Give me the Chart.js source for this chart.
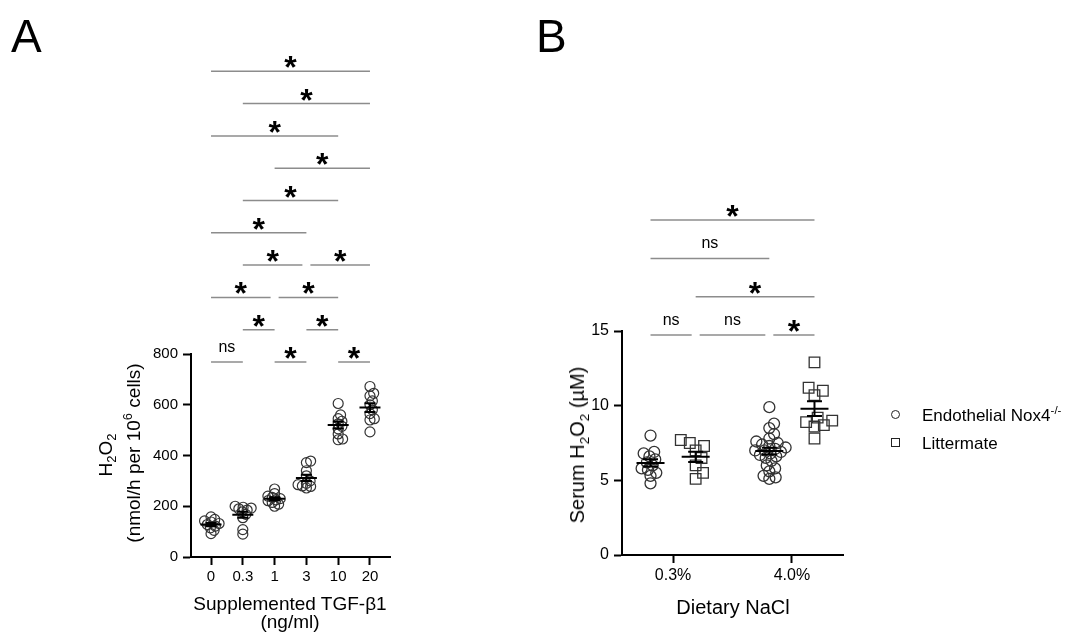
<!DOCTYPE html>
<html>
<head>
<meta charset="utf-8">
<script src="https://cdn.jsdelivr.net/npm/chart.js@4"></script>
<style>
body{margin:0;background:#fff;width:1069px;height:637px;overflow:hidden;position:relative;font-family:"Liberation Sans",Arial,sans-serif;color:#000}
canvas{position:absolute;top:0}
.t{position:absolute;white-space:nowrap;line-height:1}
.c{transform:translate(-50%,-50%)}
.r{transform:translate(-50%,-50%) rotate(-90deg)}
.t sub,.t sup{font-size:0.68em;line-height:0}
.mk{position:absolute;border:1.5px solid #222;box-sizing:border-box}
</style>
</head>
<body>
<canvas id="chartA" width="540" height="637" style="left:0"></canvas>
<canvas id="chartB" width="529" height="637" style="left:540px"></canvas>

<div class="t" style="left:11px;top:13px;font-size:46px">A</div>
<div class="t" style="left:536px;top:13px;font-size:46px">B</div>

<div class="t r" style="left:105px;top:455px;font-size:19px">H<sub>2</sub>O<sub>2</sub></div>
<div class="t r" style="left:133px;top:453px;font-size:19px">(nmol/h per 10<sup>6</sup> cells)</div>
<div class="t c" style="left:290px;top:603px;font-size:19px">Supplemented TGF-β1</div>
<div class="t c" style="left:290px;top:621px;font-size:19px">(ng/ml)</div>

<div class="t r" style="left:577px;top:445px;font-size:20px">Serum H<sub>2</sub>O<sub>2</sub> (µM)</div>
<div class="t c" style="left:733px;top:607px;font-size:20px">Dietary NaCl</div>

<div class="mk" style="left:891px;top:410px;width:9px;height:9px;border-radius:50%"></div>
<div class="t" style="left:922px;top:407px;font-size:17px">Endothelial Nox4<sup>-/-</sup></div>
<div class="mk" style="left:891px;top:438px;width:9px;height:9px"></div>
<div class="t" style="left:922px;top:435px;font-size:17px">Littermate</div>

<script>
Chart.defaults.font.family = '"Liberation Sans", Arial, sans-serif';
Chart.defaults.color = "#000";

// panel A: H2O2 release per TGF-b1 dose (nmol/h per 10^6 cells)
const doseLabels = ["0", "0.3", "1", "3", "10", "20"];
const dose0 = [158, 148, 142, 138, 132, 128, 122, 115, 105, 92];
const dose03 = [200, 196, 193, 190, 185, 178, 168, 155, 108, 90];
const dose1 = [268, 250, 240, 235, 230, 225, 222, 215, 208, 200];
const dose3 = [378, 372, 340, 320, 300, 290, 285, 280, 278, 272];
const dose10 = [605, 560, 545, 535, 525, 515, 505, 485, 465, 462];
const dose20 = [672, 645, 635, 615, 600, 580, 565, 545, 540, 493];
const doseTicks = [0, 200, 400, 600, 800];

// panel B: serum H2O2 (uM)
const saltLabels = ["0.3%", "4.0%"];
const knockoutLow = [8.0, 6.9, 6.8, 6.6, 6.4, 6.2, 6.0, 5.8, 5.7, 5.5, 5.3, 4.8];
const littermateLow = [7.7, 7.5, 7.3, 7.0, 6.5, 6.0, 5.5, 5.1];
const knockoutHigh = [9.9, 8.8, 8.5, 8.1, 7.8, 7.6, 7.5, 7.4, 7.3, 7.2, 7.1, 7.0, 7.0,
  6.9, 6.8, 6.7, 6.6, 6.5, 6.3, 6.0, 5.8, 5.6, 5.3, 5.2, 5.1];
const littermateHigh = [12.9, 11.2, 11.0, 10.7, 9.2, 9.0, 8.9, 8.7, 8.6, 7.8];
const serumTicks = [0, 5, 10, 15];

// comparisons: [group a, group b, label, row]
const sigA = [
  [0, 1, "ns", 0], [2, 3, "*", 0], [4, 5, "*", 0],
  [1, 2, "*", 1], [3, 4, "*", 1],
  [0, 2, "*", 2], [2, 4, "*", 2],
  [1, 3, "*", 3], [3, 5, "*", 3],
  [0, 3, "*", 4], [1, 4, "*", 5], [2, 5, "*", 6],
  [0, 4, "*", 7], [1, 5, "*", 8], [0, 5, "*", 9],
];
const sigB = [
  [0, 1, "ns", 0], [1, 2, "ns", 0], [2, 3, "*", 0],
  [1, 3, "*", 1], [0, 2, "ns", 2], [0, 3, "*", 3],
];

// simple beeswarm, offsets returned in x data units
function swarm(values, pxX, pxY, d) {
  const order = values.map((v, i) => i).sort((a, b) => values[a] - values[b]);
  const placed = [];
  const off = [];
  order.forEach(i => {
    const y = values[i] * pxY;
    const cands = [0];
    placed.forEach(p => {
      const dy = Math.abs(p.y - y);
      if (dy < d) {
        const dx = Math.sqrt(d * d - dy * dy);
        cands.push(p.x + dx, p.x - dx);
      }
    });
    cands.sort((a, b) => Math.abs(a) - Math.abs(b));
    const x = cands.find(c => placed.every(p => (p.x - c) ** 2 + (p.y - y) ** 2 >= d * d - 0.01));
    placed.push({ x, y });
    off[i] = x / pxX;
  });
  return off;
}

function points(values, cx, pxX, pxY, d) {
  const off = swarm(values, pxX, pxY, d);
  return values.map((v, i) => ({ x: cx + off[i], y: v }));
}

function meanSem(groups, xs, meanW, capW) {
  return {
    id: "meanSem",
    afterDatasetsDraw(chart) {
      const { ctx, scales: { x, y } } = chart;
      ctx.save();
      ctx.strokeStyle = "#000";
      ctx.lineWidth = 2;
      groups.forEach((vals, i) => {
        const n = vals.length;
        const m = vals.reduce((a, b) => a + b, 0) / n;
        const sd = Math.sqrt(vals.reduce((a, b) => a + (b - m) ** 2, 0) / (n - 1));
        const se = sd / Math.sqrt(n);
        const cx = x.getPixelForValue(xs[i]);
        const ym = y.getPixelForValue(m);
        const yt = y.getPixelForValue(m + se);
        const yb = y.getPixelForValue(m - se);
        ctx.beginPath();
        ctx.moveTo(cx - meanW / 2, ym); ctx.lineTo(cx + meanW / 2, ym);
        ctx.moveTo(cx, yt); ctx.lineTo(cx, yb);
        ctx.moveTo(cx - capW / 2, yt); ctx.lineTo(cx + capW / 2, yt);
        ctx.moveTo(cx - capW / 2, yb); ctx.lineTo(cx + capW / 2, yb);
        ctx.stroke();
      });
      ctx.restore();
    },
  };
}

function sigBars(comps, xs, first, step) {
  return {
    id: "sigBars",
    afterDraw(chart) {
      const { ctx, scales: { x } } = chart;
      const base = chart.chartArea.top + first;
      ctx.save();
      comps.forEach(([a, b, label, row]) => {
        let x1 = x.getPixelForValue(xs[a]);
        let x2 = x.getPixelForValue(xs[b]);
        const same = comps.filter(c => c[3] === row);
        if (same.some(c => c[1] === a)) x1 += 4;
        if (same.some(c => c[0] === b)) x2 -= 4;
        const ly = base - row * step;
        ctx.strokeStyle = "#8c8c8c";
        ctx.lineWidth = 1.5;
        ctx.beginPath();
        ctx.moveTo(x1, ly); ctx.lineTo(x2, ly);
        ctx.stroke();
        ctx.fillStyle = "#000";
        ctx.textAlign = "center";
        ctx.textBaseline = "alphabetic";
        if (label === "*") {
          ctx.font = 'bold 32px "Liberation Sans", Arial, sans-serif';
          ctx.fillText("*", (x1 + x2) / 2, ly + 7);
        } else {
          ctx.font = '16px "Liberation Sans", Arial, sans-serif';
          ctx.fillText(label, (x1 + x2) / 2, ly - 10);
        }
      });
      ctx.restore();
    },
  };
}

function axes(xMin, xMax, xLabels, xTickVals, yMax, yTicks, fontSize, yWidth) {
  return {
    x: {
      type: "linear", min: xMin, max: xMax,
      afterBuildTicks: s => { s.ticks = xTickVals.map(v => ({ value: v })); },
      afterFit: s => { s.height = 40; },
      ticks: { callback: (v, i) => xLabels[i], font: { size: fontSize }, color: "#000", padding: 3, maxRotation: 0, autoSkip: false },
      grid: { drawOnChartArea: false, tickLength: 8, tickColor: "#000", tickWidth: 2 },
      border: { color: "#000", width: 2 },
    },
    y: {
      min: 0, max: yMax,
      afterBuildTicks: s => { s.ticks = yTicks.map(v => ({ value: v })); },
      afterFit: s => { s.width = yWidth; },
      ticks: { font: { size: fontSize }, color: "#000", padding: 5 },
      grid: { drawOnChartArea: false, tickLength: 8, tickColor: "#000", tickWidth: 2 },
      border: { color: "#000", width: 2 },
    },
  };
}

// ---- panel A
const groupsA = [dose0, dose03, dose1, dose3, dose10, dose20];
const xsA = groupsA.map((g, i) => i);
new Chart(document.getElementById("chartA"), {
  type: "scatter",
  data: {
    datasets: groupsA.map((g, i) => ({
      data: points(g, i, 31.8, 0.2538, 4.5),
      pointStyle: "circle", pointRadius: 5, borderWidth: 1.2,
      borderColor: "#333", backgroundColor: "rgba(0,0,0,0)",
    })),
  },
  options: {
    responsive: false, animation: false, devicePixelRatio: 1,
    layout: { padding: { left: 131, right: 150, top: 354, bottom: 40 } },
    plugins: { legend: { display: false }, tooltip: { enabled: false } },
    scales: axes(-0.63, 5.63, doseLabels, xsA, 800, doseTicks, 15, 60),
  },
  plugins: [meanSem(groupsA, xsA, 21, 11), sigBars(sigA, xsA, 8, 32.3)],
});

// ---- panel B
const groupsB = [knockoutLow, littermateLow, knockoutHigh, littermateHigh];
const xsB = [-0.19, 0.19, 0.81, 1.19];
new Chart(document.getElementById("chartB"), {
  type: "scatter",
  data: {
    datasets: groupsB.map((g, i) => {
      const sq = i % 2 === 1;
      return {
        data: points(g, xsB[i], 119, 14.93, sq ? 9.5 : 6.5),
        pointStyle: sq ? "rect" : "circle", pointRadius: sq ? 7.5 : 5.5, borderWidth: 1.3,
        borderColor: "#333", backgroundColor: "rgba(0,0,0,0)",
      };
    }),
  },
  options: {
    responsive: false, animation: false, devicePixelRatio: 1,
    layout: { padding: { left: 42, right: 226, top: 331, bottom: 42 } },
    plugins: { legend: { display: false }, tooltip: { enabled: false } },
    scales: axes(-0.43, 1.43, saltLabels, [0, 1], 15, serumTicks, 16, 40),
  },
  plugins: [meanSem(groupsB, xsB, 28, 15), sigBars(sigB, xsB, 4, 38.3)],
});
</script>
</body>
</html>
